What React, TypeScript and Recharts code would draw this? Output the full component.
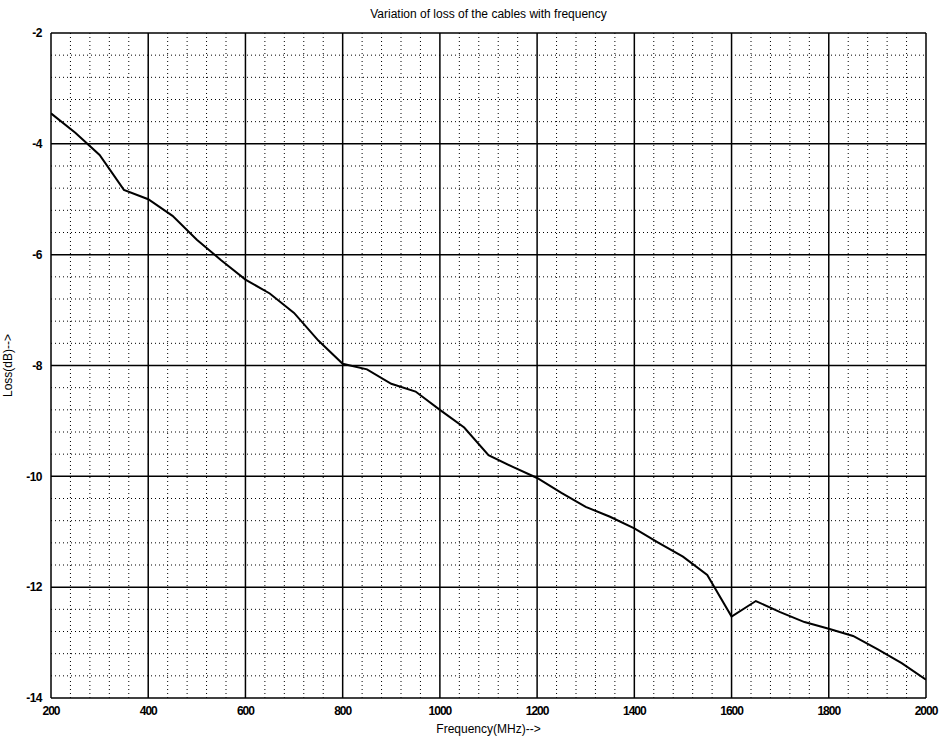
import React from "react";
import { LineChart, Line, XAxis, YAxis, ReferenceLine } from "recharts";

// Cable loss measured across the frequency sweep
const frequencyMHz = [
  200, 250, 300, 350, 400, 450, 500, 550, 600, 650, 700, 750, 800, 850, 900, 950,
  1000, 1050, 1100, 1150, 1200, 1250, 1300, 1350, 1400, 1450, 1500, 1550, 1600,
  1650, 1700, 1750, 1800, 1850, 1900, 1950, 2000,
];
const lossDb = [
  -3.45, -3.8, -4.2, -4.83, -5.0, -5.3, -5.73, -6.1, -6.45, -6.7, -7.05, -7.55,
  -7.97, -8.07, -8.33, -8.47, -8.8, -9.12, -9.62, -9.83, -10.03, -10.3, -10.55,
  -10.73, -10.94, -11.2, -11.45, -11.78, -12.53, -12.25, -12.45, -12.63, -12.75,
  -12.88, -13.12, -13.37, -13.67,
];

const xTicks = [200, 400, 600, 800, 1000, 1200, 1400, 1600, 1800, 2000];
const yTicks = [-14, -12, -10, -8, -6, -4, -2];

// Minor grid: 40 MHz and 0.4 dB subdivisions between the major lines
const xMinor = [
  240, 280, 320, 360, 440, 480, 520, 560, 640, 680, 720, 760, 840, 880, 920, 960,
  1040, 1080, 1120, 1160, 1240, 1280, 1320, 1360, 1440, 1480, 1520, 1560, 1640,
  1680, 1720, 1760, 1840, 1880, 1920, 1960,
];
const yMinor = [
  -13.6, -13.2, -12.8, -12.4, -11.6, -11.2, -10.8, -10.4, -9.6, -9.2, -8.8, -8.4,
  -7.6, -7.2, -6.8, -6.4, -5.6, -5.2, -4.8, -4.4, -3.6, -3.2, -2.8, -2.4,
];

const data = frequencyMHz.map((f, i) => ({ f, loss: lossDb[i] }));

const FONT = "'Liberation Sans', Arial, sans-serif";

export default function App() {
  return (
    <div style={{ position: "absolute", left: 0, top: 0, width: 945, height: 745, background: "#fff" }}>
      <LineChart
        width={945}
        height={745}
        data={data}
        margin={{ top: 33, right: 19, left: 0, bottom: 0 }}
      >
        <XAxis
          dataKey="f"
          type="number"
          domain={[200, 2000]}
          ticks={xTicks}
          allowDataOverflow
          height={47}
          axisLine={{ stroke: "#000", strokeWidth: 1.5 }}
          tickLine={false}
          tick={{ fill: "#000", fontSize: 12, fontFamily: FONT, fontWeight: 700, letterSpacing: -1 }}
          tickMargin={2}
          label={{
            value: "Frequency(MHz)-->",
            position: "insideBottom",
            offset: 12,
            fill: "#000",
            fontSize: 12,
            fontFamily: FONT,
          }}
        />
        <YAxis
          type="number"
          domain={[-14, -2]}
          ticks={yTicks}
          allowDataOverflow
          width={51}
          axisLine={{ stroke: "#000", strokeWidth: 1.5 }}
          tickLine={false}
          tick={{ fill: "#000", fontSize: 12, fontFamily: FONT, fontWeight: 700, letterSpacing: -0.5 }}
          tickMargin={3}
          label={{
            value: "Loss(dB)-->",
            angle: -90,
            position: "insideLeft",
            offset: 8,
            fill: "#000",
            fontSize: 12,
            fontFamily: FONT,
            style: { textAnchor: "middle" },
          }}
        />
        {xMinor.map((v) => (
          <ReferenceLine key={`xm${v}`} x={v} stroke="#000" strokeWidth={1} strokeDasharray="1 3" />
        ))}
        {yMinor.map((v) => (
          <ReferenceLine key={`ym${v}`} y={v} stroke="#000" strokeWidth={1} strokeDasharray="1 3" />
        ))}
        {xTicks.slice(1).map((v) => (
          <ReferenceLine key={`xM${v}`} x={v} stroke="#000" strokeWidth={1.5} />
        ))}
        {yTicks.slice(1).map((v) => (
          <ReferenceLine key={`yM${v}`} y={v} stroke="#000" strokeWidth={1.5} />
        ))}
        <Line
          dataKey="loss"
          type="linear"
          stroke="#000"
          strokeWidth={2}
          dot={false}
          isAnimationActive={false}
        />
      </LineChart>
      <div
        style={{
          position: "absolute",
          left: 51,
          width: 875,
          top: 7,
          textAlign: "center",
          fontFamily: FONT,
          fontSize: 12,
          color: "#000",
        }}
      >
        Variation of loss of the cables with frequency
      </div>
    </div>
  );
}
